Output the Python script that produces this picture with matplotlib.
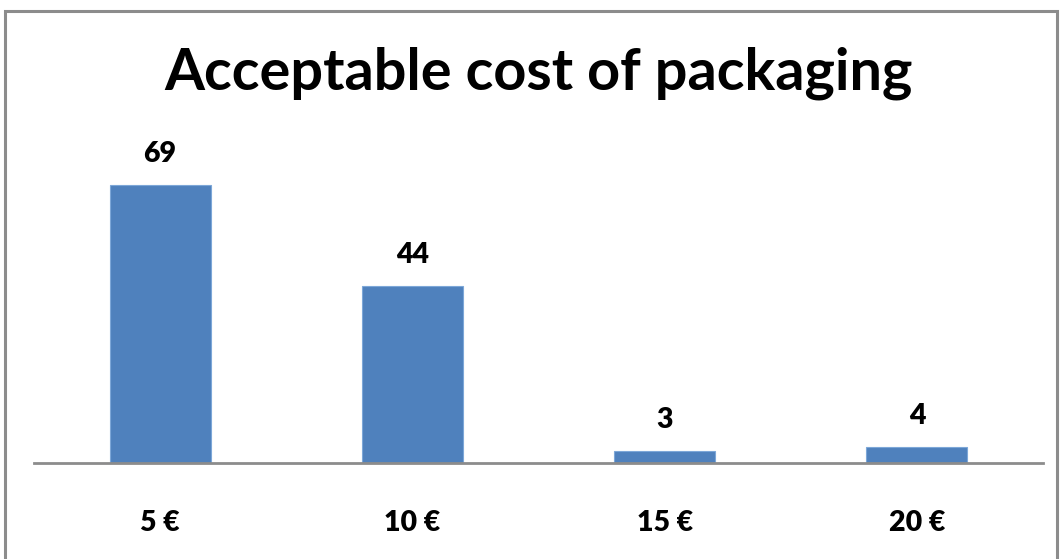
import matplotlib
matplotlib.use('Agg')
import matplotlib.pyplot as plt
from matplotlib.patches import Rectangle

# Данные
categories = ["5 €", "10 €", "15 €", "20 €"]
values = [69, 44, 3, 4]

plt.rcParams['font.family'] = ['Lato', 'DejaVu Sans']

W, H = 1061, 559
fig = plt.figure(figsize=(W / 100, H / 100), dpi=100)

# рамка вокруг диаграммы
fig.patches.append(Rectangle((5 / W, -0.05), 1052 / W, 1.05 - 11 / H, transform=fig.transFigure,
                             fill=False, edgecolor='#8c8c8c', linewidth=2.2))

ax = fig.add_axes([34 / W, (H - 463) / H, 1009 / W, 323 / H])
x = range(len(categories))
ax.bar(x, values, width=0.4, color='#4f81bd', edgecolor='#7da7d8', linewidth=0.8)
ax.set_xlim(-0.5, len(categories) - 0.5)
ax.set_ylim(0, 323 / 4.03)

for xi, v in zip(x, values):
    ax.text(xi, v + 4.5, str(v), ha='center', va='bottom', fontsize=20.5, fontweight='heavy')

ax.set_xticks(list(x))
ax.set_xticklabels(categories, fontsize=20.5, fontweight='heavy')
ax.tick_params(axis='x', length=0, pad=34)
ax.set_yticks([])
for s in ['top', 'right', 'left']:
    ax.spines[s].set_visible(False)
ax.spines['bottom'].set_color('#8c8c8c')
ax.spines['bottom'].set_linewidth(2)

fig.text(539 / W, 1 - 73 / H, "Acceptable cost of packaging", ha='center', va='center',
         fontsize=41.5, fontweight='bold')

fig.savefig('out.png', dpi=100)
